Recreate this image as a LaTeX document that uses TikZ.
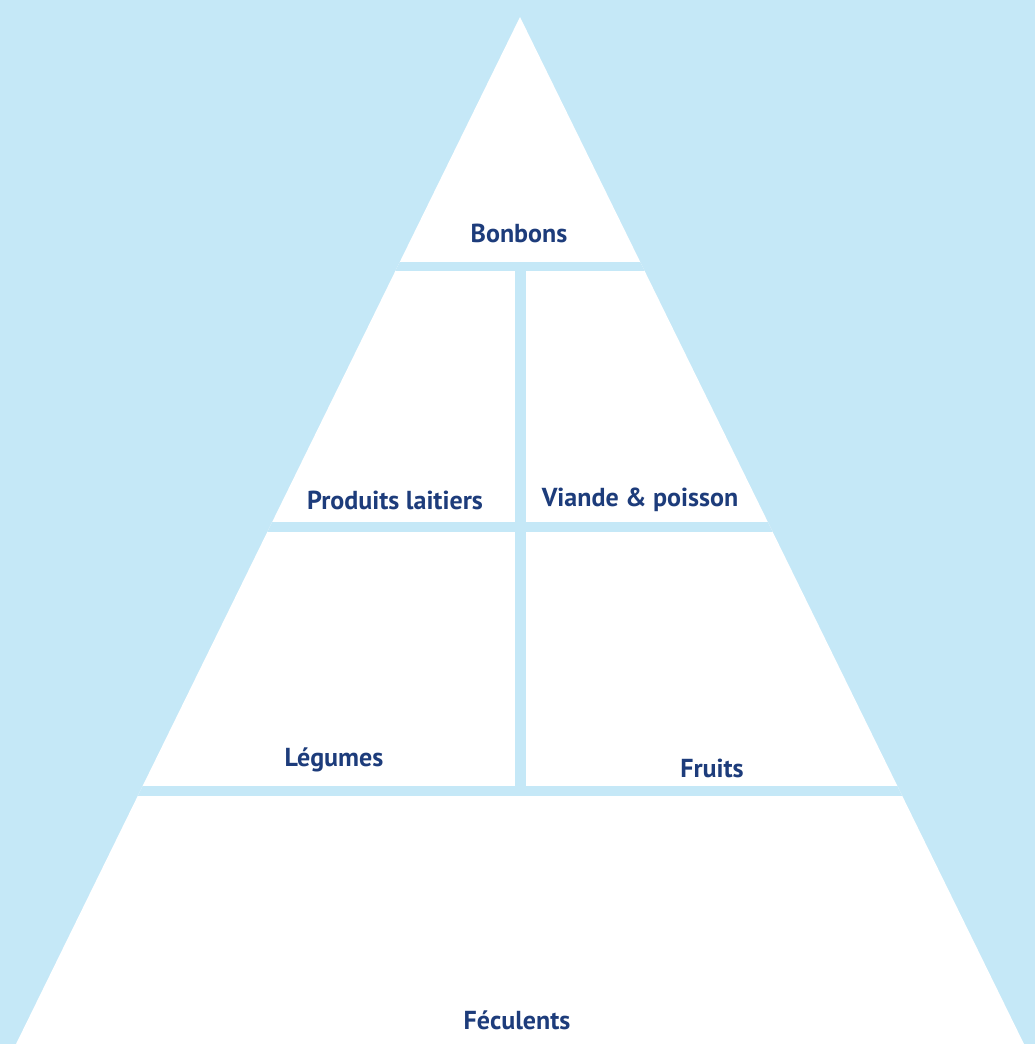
\documentclass[tikz,border=0pt]{standalone}
\usepackage{fontspec}
\setmainfont{PT Sans}
\definecolor{bgblue}{HTML}{C5E8F7}
\definecolor{labelblue}{HTML}{1D3C7B}
\begin{document}
\begin{tikzpicture}[x=1pt,y=-1pt,
  label/.style={font=\bfseries\fontsize{26}{30}\selectfont, text=labelblue, inner sep=0pt, anchor=center},
  gap/.style={fill=bgblue, draw=none}]
\useasboundingbox (0,0) rectangle (1035,1044);
\fill[bgblue] (0,0) rectangle (1035,1044);
% pyramid
\coordinate (apex) at (520,17);
\coordinate (bl) at (16,1044);
\coordinate (br) at (1024,1044);
\fill[white] (apex) -- (br) -- (bl) -- cycle;
\begin{scope}
  \clip (apex) -- (br) -- (bl) -- cycle;
  \fill[gap] (0,262) rectangle (1035,271);
  \fill[gap] (0,522) rectangle (1035,532);
  \fill[gap] (0,786) rectangle (1035,796);
  \fill[gap] (515,262) rectangle (526,796);
\end{scope}
% labels
\node[label] (bonbons) at (519,233) {Bonbons};
\node[label] (laitiers) at (395,500) {Produits laitiers};
\node[label] (viande) at (640,500) {Viande \& poisson};
\node[label] (legumes) at (334,760) {Légumes};
\node[label] (fruits) at (712,768) {Fruits};
\node[label] (feculents) at (517,1020) {Féculents};
\end{tikzpicture}
\end{document}
